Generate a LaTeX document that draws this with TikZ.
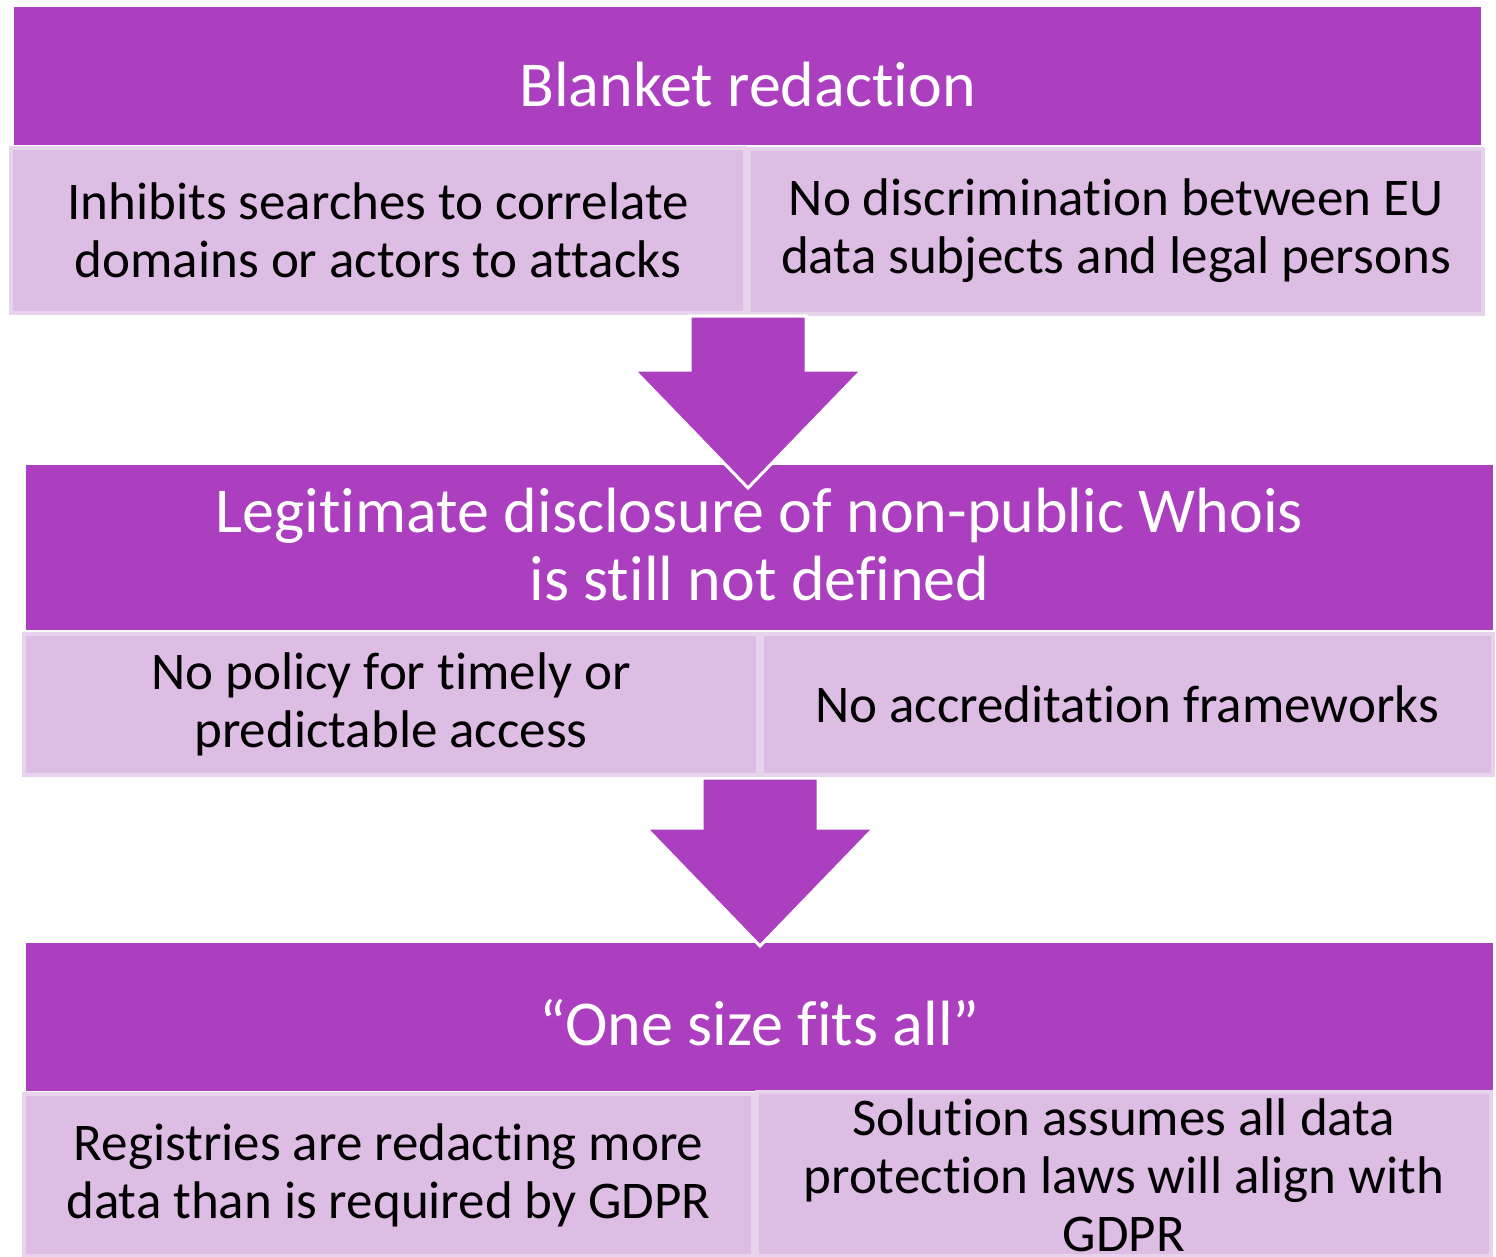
\documentclass[tikz,border=0pt]{standalone}
\usepackage{fontspec}
\setmainfont{Carlito}[Ligatures=NoCommon]
\usetikzlibrary{calc}
\definecolor{hdrpurple}{HTML}{AB3FBF}
\definecolor{lightpurple}{HTML}{DDBDE3}
\definecolor{edgepurple}{HTML}{E8D3EC}
\tikzset{
  hdrbox/.style={rectangle, fill=hdrpurple, draw=none, inner sep=0pt},
  hdrtext/.style={inner sep=0pt, text=white, align=center, font=\fontsize{64}{68}\selectfont},
  subbox/.style={rectangle, fill=lightpurple, draw=edgepurple, line width=4pt, inner sep=0pt, text=black, align=center,
    font=\fontsize{53}{58}\selectfont},
  bodytext/.style={inner sep=0pt, text=black, align=center, font=\fontsize{53}{58}\selectfont},
  bigarrow/.style={fill=hdrpurple, draw=white, line width=3pt, line join=miter},
}
\begin{document}
\begin{tikzpicture}[x=1pt,y=-1pt]
\useasboundingbox (0,0) rectangle (1496,1256);
\fill[white] (0,0) rectangle (1496,1256);
% row 1
\node[hdrbox, minimum width=1467, minimum height=138] (h1) at (747.5,76) {};
\node[hdrtext] (h1t) at ($(h1.center)+(0,9)$) {Blanket redaction};
\node[subbox, minimum width=734, minimum height=165] (r1l) at (378,230) {Inhibits searches to correlate\\domains or actors to attacks};
\node[subbox, minimum width=734, minimum height=165] (r1r) at (1116,231) {No discrimination between EU\\data subjects and legal persons};
% row 2
\node[hdrbox, minimum width=1467, minimum height=165] (h2) at (759.5,547.5) {};
% row 3
\node[hdrbox, minimum width=1467, minimum height=148] (h3) at (759.5,1017) {};
% arrows
\coordinate (a1top) at (748,316);
\coordinate (a1tip) at (748,488);
\coordinate (a2top) at (760,778);
\coordinate (a2tip) at (760,946);
\draw[bigarrow] ($(a1top)+(-58,0)$) -- ($(a1top)+(58,0)$) -- ($(a1top)+(58,54)$) -- ($(a1top)+(114,54)$)
  -- (a1tip) -- ($(a1top)+(-114,54)$) -- ($(a1top)+(-58,54)$) -- cycle;
\draw[bigarrow] ($(a2top)+(-58,0)$) -- ($(a2top)+(58,0)$) -- ($(a2top)+(58,50)$) -- ($(a2top)+(114,50)$)
  -- (a2tip) -- ($(a2top)+(-114,50)$) -- ($(a2top)+(-58,50)$) -- cycle;
% header texts and remaining boxes
\node[hdrtext] (h2t) at ($(h2.center)+(0,-3)$) {Legitimate disclosure of non-public Whois\\is still not defined};
\node[subbox, minimum width=734, minimum height=141] (r2l) at (391,704) {No policy for timely or\\predictable access};
\node[subbox, minimum width=731, minimum height=141] (r2r) at (1127,704) {No accreditation frameworks};
\node[hdrtext] (h3t) at ($(h3.center)+(0,6)$) {“One size fits all”};
\node[subbox, minimum width=729, minimum height=162] (r3l) at (388.5,1175) {Registries are redacting more\\data than is required by GDPR};
\node[subbox, minimum width=734, minimum height=164] (r3r) at (1124,1174) {};
\node[bodytext] (r3rt) at ($(r3r.center)+(0,1)$) {Solution assumes all data\\protection laws will align with\\GDPR};
\end{tikzpicture}
\end{document}
